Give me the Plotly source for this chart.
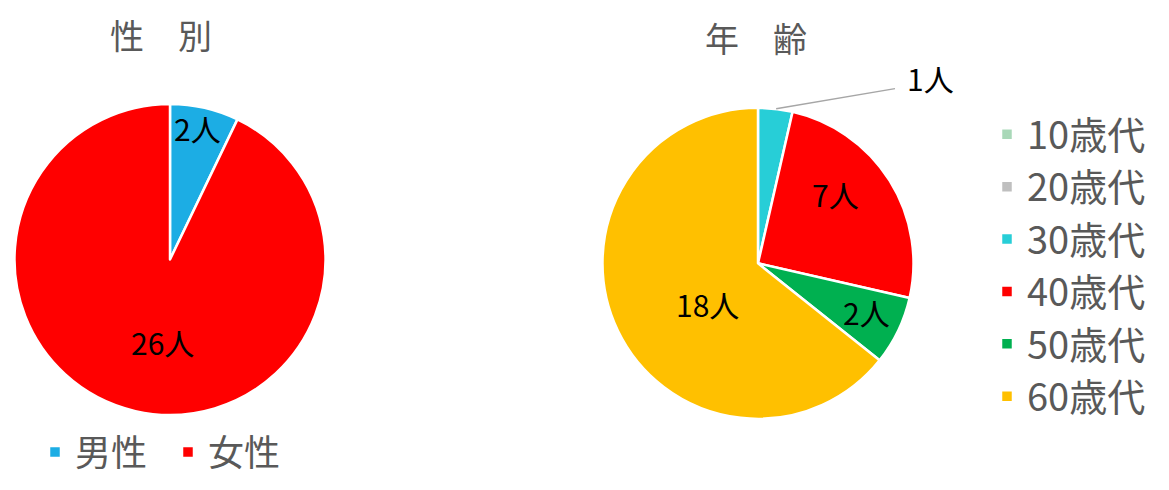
"""
性別・年齢の円グラフ (2つ並べて表示)
"""

import numpy as np
import plotly.graph_objects as go

# the page body has an 8px margin, so the figure sits 8px in
OFF = 8
W, H = 1169 - 2 * OFF, 490 - 2 * OFF

# 性別
gender_labels = ["男性", "女性"]
gender_values = [2, 26]
gender_colors = ["#1CADE4", "#FF0000"]

# 年齢
age_labels = ["10歳代", "20歳代", "30歳代", "40歳代", "50歳代", "60歳代"]
age_values = [0, 0, 1, 7, 2, 18]
age_colors = ["#A9D8B8", "#BFBFBF", "#27CED7", "#FF0000", "#00B050", "#FFC000"]

FONT = "Noto Sans CJK JP"
GRAY = "#595959"


def px(x, y):
    # screen pixel -> paper
    return (x - OFF) / W, 1 - (y - OFF) / H


# pie placement (screen pixels): center, radius
left_c, right_c, R = (170, 270), (758, 274), 162


def domain(c):
    x0, y0 = px(c[0] - R, c[1] + R)
    x1, y1 = px(c[0] + R, c[1] - R)
    return dict(x=[max(x0, 0), min(x1, 1)], y=[max(y0, 0), min(y1, 1)])


fig = go.Figure()

fig.add_trace(go.Pie(
    labels=gender_labels, values=gender_values,
    marker=dict(colors=gender_colors, line=dict(color="white", width=2.5)),
    sort=False, direction="clockwise", rotation=0,
    textinfo="none", hoverinfo="label+value",
    domain=domain(left_c), legend="legend",
))

fig.add_trace(go.Pie(
    labels=age_labels, values=age_values,
    marker=dict(colors=age_colors, line=dict(color="white", width=2.5)),
    sort=False, direction="clockwise", rotation=0,
    textinfo="none", hoverinfo="label+value",
    domain=domain(right_c), legend="legend2",
))


def add_text(text, p, size, color, yanchor="middle"):
    x, y = px(*p)
    fig.add_annotation(x=x, y=min(y, 1), xref="paper", yref="paper", text=text,
                       xanchor="center", yanchor=yanchor, showarrow=False,
                       font=dict(size=size, color=color, family=FONT))


# data labels (placed as in the original)
gender_label_pos = [(197, 133), (162, 356)]
age_label_pos = [None, None, (930, 81), (835, 202), (866, 325), (707, 316)]

for v, p in zip(gender_values, gender_label_pos):
    add_text(f"{v}人", p, 30, "black")

for v, p in zip(age_values, age_label_pos):
    if p is not None:
        add_text(f"{v}人", p, 30, "black")

# leader line for the 30歳代 slice
total = sum(age_values)
mid = (sum(age_values[:2]) + age_values[2] / 2) / total * 2 * np.pi
ex, ey = right_c[0] + R * np.sin(mid), right_c[1] - R * np.cos(mid)
x0, y0 = px(ex, ey)
x1, y1 = px(895, 92)
fig.add_shape(type="line", xref="paper", yref="paper", x0=x0, y0=y0, x1=x1, y1=y1,
              line=dict(color="#A6A6A6", width=1.5))

# titles
add_text("性　別", (161, 8), 34, GRAY, yanchor="top")
add_text("年　齢", (756, 39), 34, GRAY)

lx, ly = px(35, 471)
rx, ry = px(987, 107)
fig.update_layout(
    width=W, height=H,
    margin=dict(l=0, r=0, t=0, b=0),
    paper_bgcolor="white",
    font=dict(family=FONT, color=GRAY),
    legend=dict(orientation="h", x=lx, y=ly, xanchor="left", yanchor="middle",
                entrywidth=88, font=dict(size=36, color=GRAY, family=FONT)),
    legend2=dict(orientation="v", x=rx, y=ry, xanchor="left", yanchor="top",
                 font=dict(size=38, color=GRAY, family=FONT), tracegroupgap=0),
)

fig.write_html("out.html")
